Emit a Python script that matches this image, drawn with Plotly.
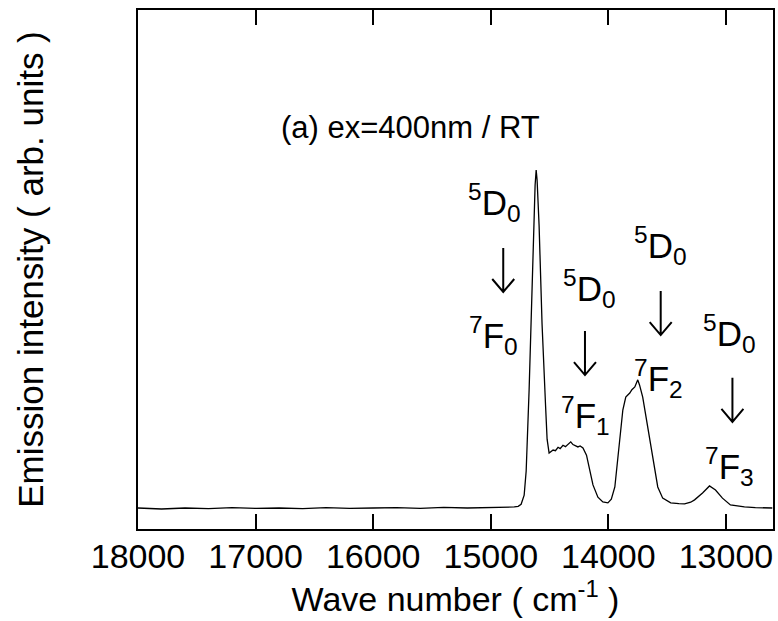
import plotly.graph_objects as go

wavenumber = [18000, 17800, 17600, 17400, 17200, 17000, 16800, 16600, 16400, 16200,
              16000, 15800, 15600, 15400, 15200, 15000, 14900, 14800, 14767, 14742,
              14716, 14699, 14674, 14648, 14631, 14623, 14614, 14606, 14589, 14564,
              14534, 14521, 14504, 14490, 14470, 14450, 14428, 14410, 14386, 14365,
              14343, 14320, 14301, 14280, 14259, 14240, 14216, 14186, 14157, 14131,
              14089, 14047, 14004, 13975, 13945, 13903, 13877, 13852, 13835, 13818,
              13800, 13775, 13750, 13735, 13708, 13665, 13623, 13580, 13538, 13470,
              13400, 13352, 13300, 13267, 13199, 13140, 13089, 13030, 12962, 12900,
              12843, 12750, 12606]
intensity = [0.003, 0.0, 0.003, 0.001, 0.004, 0.002, 0.003, 0.001, 0.004, 0.002,
             0.003, 0.004, 0.002, 0.005, 0.003, 0.004, 0.005, 0.006, 0.008, 0.014,
             0.041, 0.112, 0.351, 0.643, 0.885, 0.956, 1.0, 0.97, 0.835, 0.546,
             0.304, 0.206, 0.165, 0.170, 0.174, 0.172, 0.182, 0.178, 0.188, 0.184,
             0.192, 0.198, 0.190, 0.186, 0.183, 0.186, 0.180, 0.159, 0.115, 0.071,
             0.035, 0.021, 0.018, 0.029, 0.065, 0.195, 0.292, 0.330, 0.335, 0.342,
             0.352, 0.360, 0.381, 0.366, 0.330, 0.242, 0.145, 0.065, 0.032, 0.018,
             0.016, 0.015, 0.020, 0.027, 0.047, 0.068, 0.056, 0.032, 0.012, 0.008,
             0.006, 0.004, 0.003]

tick_values = [18000, 17000, 16000, 15000, 14000, 13000]
tick_labels = ["18000", "17000", "16000", "15000", "14000", "13000"]

# transition labels: upper state, lower state
upper_labels = ["<sup>5</sup>D<sub>0</sub>"] * 4
lower_labels = ["<sup>7</sup>F<sub>0</sub>", "<sup>7</sup>F<sub>1</sub>",
                "<sup>7</sup>F<sub>2</sub>", "<sup>7</sup>F<sub>3</sub>"]

FONT = "Liberation Sans, Arial, Helvetica, sans-serif"
BLACK = "black"

fig = go.Figure()
fig.add_trace(go.Scatter(x=wavenumber, y=intensity, mode="lines",
                         line=dict(color=BLACK, width=1.3), showlegend=False))

# anchor positions (data coords) of upper text, arrow, lower text
label_pos = [
    ((14966, 0.903), (14894, 0.705), (14979, 0.513)),
    ((14161, 0.649), (14199, 0.460), (14191, 0.277)),
    ((13559, 0.776), (13555, 0.578), (13572, 0.386)),
    ((12966, 0.519), (12945, 0.322), (12970, 0.124)),
]
arrow_path = "M 0,22 L 0,-22 M -11,-9 L 0,-22 L 11,-9"
for (up, ar, lo), t1, t2 in zip(label_pos, upper_labels, lower_labels):
    fig.add_annotation(x=up[0], y=up[1], text=t1, showarrow=False,
                       font=dict(size=35, family=FONT, color=BLACK))
    fig.add_annotation(x=lo[0], y=lo[1], text=t2, showarrow=False,
                       font=dict(size=35, family=FONT, color=BLACK))
    fig.add_shape(type="path", xref="x", yref="y", xsizemode="pixel", ysizemode="pixel",
                  xanchor=ar[0], yanchor=ar[1], path=arrow_path,
                  line=dict(color=BLACK, width=2))

fig.add_annotation(x=15682, y=1.124, text="(a) ex=400nm / RT", showarrow=False,
                   font=dict(size=31, family=FONT, color=BLACK))

fig.update_layout(
    width=778, height=621,
    margin=dict(l=138, r=3, t=10, b=92),
    paper_bgcolor="white", plot_bgcolor="white",
    font=dict(family=FONT, size=33, color=BLACK),
)
fig.update_xaxes(
    range=[18000, 12600], tickvals=tick_values, ticktext=tick_labels,
    ticks="inside", ticklen=15, tickwidth=2, tickcolor=BLACK,
    showline=True, linewidth=2, linecolor=BLACK, mirror="ticks",
    showgrid=False, zeroline=False, ticklabelstandoff=-4,
    tickfont=dict(size=34, family=FONT, color=BLACK),
    title=dict(text="Wave number ( cm<sup>-1</sup> )", font=dict(size=34, family=FONT, color=BLACK), standoff=8),
)
fig.update_yaxes(
    range=[-0.059, 1.472], showticklabels=False, ticks="",
    showline=True, linewidth=2, linecolor=BLACK, mirror=True,
    showgrid=False, zeroline=False,
    title=dict(text="Emission intensity ( arb. units )", font=dict(size=35, family=FONT, color=BLACK), standoff=82),
)

fig.write_html("out.html")
